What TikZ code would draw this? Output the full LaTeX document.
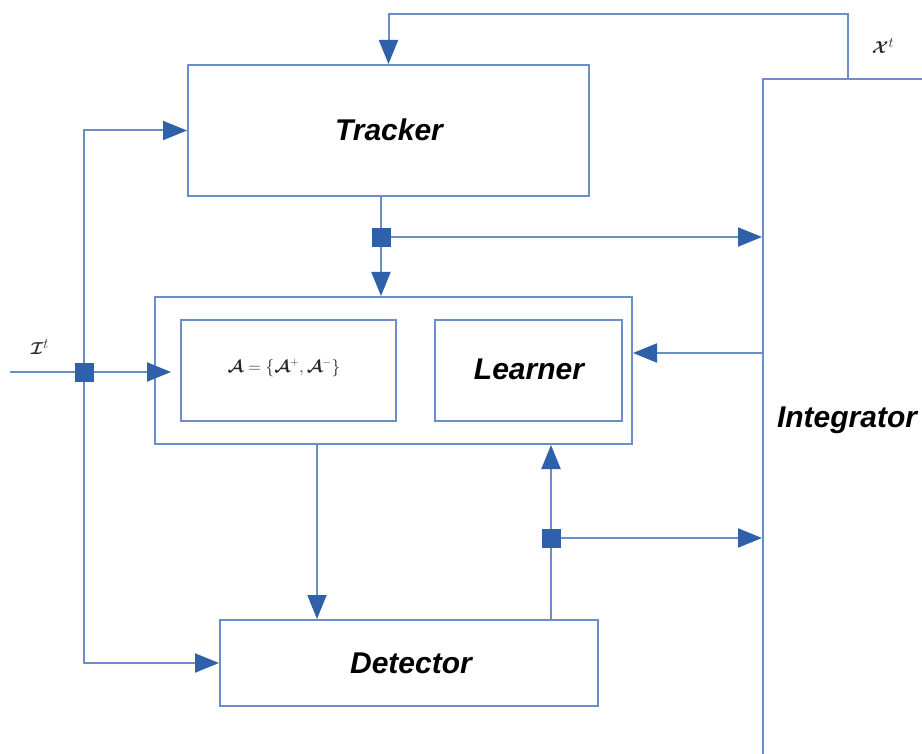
\documentclass[tikz,border=0pt]{standalone}
\usepackage{amsmath}
\usepackage{bm}
\usepackage{fontspec}
\setmainfont{Liberation Sans}
\usetikzlibrary{arrows.meta}

\definecolor{wire}{RGB}{108,142,200}
\definecolor{tipblue}{RGB}{47,96,170}

\tikzset{
  wirestyle/.style={draw=wire, line width=2pt},
  arr/.style={wirestyle, -{Triangle[length=24pt,width=19pt,color=tipblue,fill=tipblue]}},
  block/.style={draw=wire, line width=2pt, rectangle, inner sep=0pt},
  title/.style={font=\fontsize{30}{35}\selectfont\bfseries\itshape},
  junction/.style={rectangle, fill=tipblue, draw=tipblue, minimum size=18pt, inner sep=0pt},
  sym/.style={font=\fontsize{16}{19}\selectfont, text=black!85},
  iolabel/.style={font=\fontsize{19}{22}\selectfont, text=black!85}
}

\begin{document}
\begin{tikzpicture}[x=1pt, y=-1pt]
\useasboundingbox (0,0) rectangle (922,754);

\begin{scope}
\clip (0,0) rectangle (922,754);

% main blocks
\node[block, minimum width=401pt, minimum height=131pt] (tracker) at (388.5,130.5) {};
\node[title] (trackerlabel) at (389,130) {Tracker};

\node[block, minimum width=477pt, minimum height=147pt] (learnbox) at (393.5,370.5) {};
\node[block, minimum width=215pt, minimum height=101pt] (abox) at (288.5,370.5) {};
\node[sym] (aset) at (284,368) {$\bm{\mathcal{A}}=\{\bm{\mathcal{A}}^{+},\bm{\mathcal{A}}^{-}\}$};
\node[block, minimum width=187pt, minimum height=101pt] (learner) at (528.5,370.5) {};
\node[title] (learnerlabel) at (529,369) {Learner};

\node[block, minimum width=378pt, minimum height=86pt] (detector) at (409,663) {};
\node[title] (detectorlabel) at (411,663) {Detector};

\node[block, minimum width=320pt, minimum height=760pt] (integ) at (923,459) {};
\node[title] (integlabel) at (847,420) {Integrator};

% junction points
\node[junction] (j1) at (381,237) {};
\node[junction] (j2) at (84,372) {};
\node[junction] (j3) at (551,538) {};

% input and output labels
\node[iolabel] (inlabel) at (40,347) {$\bm{\mathcal{I}}^{t}$};
\node[iolabel] (outlabel) at (883,46) {$\bm{\mathcal{X}}^{t}$};

\coordinate (xo) at (848,79);
\coordinate (in) at (10,372);

% feedback from integrator to tracker
\draw[arr] (xo) -- ++(0,-65) -| (tracker.north);

% tracker output
\draw[wirestyle] (j1 |- tracker.south) -- (j1);
\draw[arr] (j1) -- (j1 |- learnbox.north);
\draw[arr] (j1) -- (j1 -| integ.west);

% input frame
\draw[wirestyle] (in) -- (j2);
\draw[arr, shorten >=9pt] (j2) -- (j2 -| abox.west);
\draw[arr] (j2) |- (tracker.west);
\draw[arr] (j2) |- (detector.west);

% integrator to learner
\draw[arr] (integ.west |- 0,353) -- (learnbox.east |- 0,353);

% learner to detector
\draw[arr] (learnbox.south -| 317,0) -- (detector.north -| 317,0);

% detector output
\draw[wirestyle] (j3 |- detector.north) -- (j3);
\draw[arr] (j3) -- (j3 |- learnbox.south);
\draw[arr] (j3) -- (j3 -| integ.west);

% redraw junctions above the wires
\node[junction] at (j1) {};
\node[junction] at (j2) {};
\node[junction] at (j3) {};
\end{scope}
\end{tikzpicture}
\end{document}
